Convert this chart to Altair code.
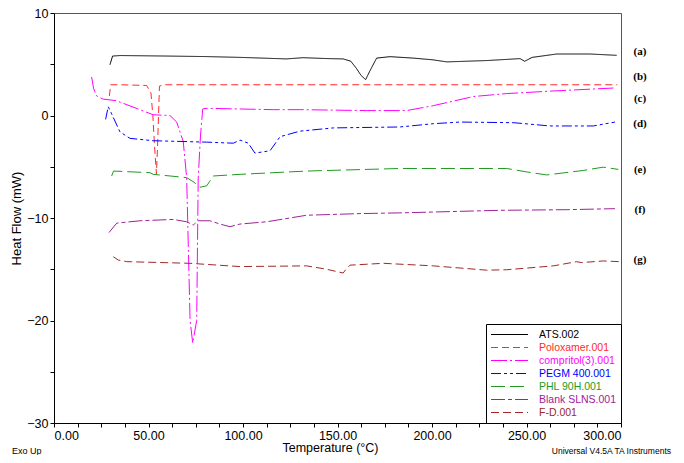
import altair as alt
import pandas as pd

# ---- data ----
series_names = ["ATS.002", "Poloxamer.001", "compritol(3).001", "PEGM 400.001",
                "PHL 90H.001", "Blank SLNS.001", "F-D.001"]
series_colors = ["#000000", "#ff2a2a", "#ff00ff", "#0000ff", "#1f9a1f", "#a0209a", "#a02828"]
series_dashes = [[1, 0], [7, 4], [16, 3, 2, 3], [10, 3, 3, 3, 3, 3], [14, 5], [14, 3, 4, 3], [8, 4]]
curve_tags = ["(a)", "(b)", "(c)", "(d)", "(e)", "(f)", "(g)"]
tag_levels = [6.2, 3.8, 1.6, -0.8, -5.3, -9.2, -14.1]

ats_t = [29.6, 31, 35, 59.6, 80, 98.4, 110, 123, 131.8, 145, 153, 157, 160, 162.5, 164.9,
         167, 170.7, 177.8, 190, 200.6, 207.8, 229, 246.6, 249, 253, 266, 283.6, 297.7]
ats_hf = [4.95, 5.8, 5.85, 5.8, 5.75, 5.67, 5.6, 5.52, 5.64, 5.55, 5.52, 5.3, 4.6, 3.9, 3.5,
          4.3, 5.6, 5.74, 5.6, 5.43, 5.23, 5.36, 5.55, 5.29, 5.67, 6.0, 6.0, 5.87]

polox_t = [29.3, 30, 35, 49, 51.3, 52.3, 53.2, 54.2, 54.8, 55.3, 55.8, 58, 100, 200, 298]
polox_hf = [1.9, 3.0, 3.0, 2.93, 2.2, 0.0, -3.0, -5.7, -3.0, 0.0, 2.87, 3.0, 3.0, 3.0, 3.0]

comp_t = [19.9, 21, 22.6, 26, 33, 45, 52.5, 61.4, 64.9, 68.4, 70.2, 72, 73.4, 75.5, 76.3,
          77.5, 78.7, 81, 116, 130, 165.4, 186.6, 200.7, 221.9, 239.5, 264, 296]
comp_hf = [3.76, 2.6, 1.9, 1.6, 1.44, 0.6, 0.07, 0.0, -0.64, -2.55, -6.1, -20, -22.2, -20, -6.1,
           -2.0, 0.64, 0.7, 0.57, 0.57, 0.48, 0.48, 0.96, 1.85, 2.14, 2.39, 2.68]

pegm_t = [27.3, 28.7, 30.5, 34.9, 40.2, 52.5, 80.8, 94.9, 98.4, 102.8, 106.3, 114.3, 119.6,
          130, 147.8, 183, 200.7, 214.8, 243, 262.4, 285.4, 296.8]
pegm_hf = [-0.38, 0.86, 0.16, -1.6, -2.23, -2.46, -2.6, -2.7, -2.4, -2.7, -3.67, -3.44, -2.07,
           -1.53, -1.21, -1.12, -0.8, -0.64, -0.7, -1.02, -1.02, -0.64]

phl_t = [30.5, 31.5, 50.8, 52.5, 70.2, 74, 77.2, 80.8, 84.3, 98.4, 133.7, 183, 239.5, 250,
         260.7, 280, 290.6, 298.6]
phl_hf = [-5.9, -5.42, -5.58, -5.74, -6.06, -6.5, -7.0, -6.86, -5.9, -5.74, -5.42, -5.17, -5.17,
          -5.5, -5.8, -5.36, -5.04, -5.26]

blank_t = [29.1, 33.2, 45.5, 63.1, 70.2, 73.7, 76.3, 82.5, 87.8, 93.1, 98.4, 112.5, 133.7,
           161.9, 183, 236, 271, 296.8]
blank_hf = [-11.42, -10.5, -10.27, -10.14, -10.37, -10.69, -10.27, -10.27, -10.59, -10.85,
            -10.59, -10.37, -9.73, -9.57, -9.5, -9.25, -9.19, -9.09]

fd_t = [31.4, 34, 38.5, 72, 98.4, 133.7, 144.3, 153, 154.5, 156.6, 174.2, 200.7, 229, 239.5,
        264.2, 276.5, 279, 290.6, 299.5]
fd_hf = [-13.78, -14.1, -14.26, -14.42, -14.74, -14.67, -15.0, -15.37, -15.0, -14.6, -14.42,
         -14.67, -15.09, -15.05, -14.67, -14.26, -14.35, -14.19, -14.26]

x_ticks = [i * 12.5 for i in range(25)]
y_ticks = [-30 + i * 2.5 for i in range(17)]

# ---- build long table ----
all_t = [ats_t, polox_t, comp_t, pegm_t, phl_t, blank_t, fd_t]
all_hf = [ats_hf, polox_hf, comp_hf, pegm_hf, phl_hf, blank_hf, fd_hf]
rows = []
for name, ts, hs in zip(series_names, all_t, all_hf):
    for i, (t, h) in enumerate(zip(ts, hs)):
        rows.append({"series": name, "T": t, "HF": h, "idx": i})
df = pd.DataFrame(rows)
tags = pd.DataFrame({"tag": curve_tags, "HF": tag_levels})

FONT = "Liberation Sans"
W, H = 567, 410
PAD_TOP = 5

xscale = alt.Scale(domain=[0, 300], nice=False, zero=False)
yscale = alt.Scale(domain=[-30, 10], nice=False, zero=False)

lines = alt.Chart(df).mark_line(strokeWidth=1).encode(
    x=alt.X("T:Q", scale=xscale,
            axis=alt.Axis(values=x_ticks, title="Temperature (°C)",
                          labelExpr="datum.value % 50 === 0 ? format(datum.value, '.2f') : ''",
                          titleX=276, titlePadding=0, titleFontSize=12.5)),
    y=alt.Y("HF:Q", scale=yscale,
            axis=alt.Axis(values=y_ticks, title="Heat Flow (mW)",
                          labelExpr="datum.value % 10 === 0 ? format(datum.value, 'd') : ''",
                          titleX=-31, titleBaseline="bottom")),
    color=alt.Color("series:N", scale=alt.Scale(domain=series_names, range=series_colors),
                    legend=alt.Legend(title=None, orient="bottom-right", offset=0,
                                      symbolType="stroke", symbolSize=1369,
                                      symbolStrokeWidth=1.2, clipHeight=13,
                                      symbolStrokeColor={"expr": "scale('color', datum.value)"},
                                      rowPadding=0, labelOffset=10,
                                      labelFont=FONT, labelFontSize=10.5,
                                      labelColor={"expr": "scale('color', datum.value)"},
                                      strokeColor="#000", fillColor="#fff", padding=4)),
    strokeDash=alt.StrokeDash("series:N", scale=alt.Scale(domain=series_names, range=series_dashes),
                              legend=alt.Legend(title=None)),
    order="idx:Q",
)

tag_text = alt.Chart(tags).mark_text(font="Liberation Serif", fontWeight="bold", fontSize=11,
                                     align="center", baseline="middle", color="#000").encode(
    x=alt.value(W + 19),
    y=alt.Y("HF:Q", scale=yscale),
    text="tag:N",
)

one = pd.DataFrame({"a": [0]})
exo = alt.Chart(one).mark_text(text="Exo Up", font=FONT, fontSize=9, align="left",
                               baseline="middle", color="#000").encode(
    x=alt.value(-42), y=alt.value(H + 28))
univ = alt.Chart(one).mark_text(text="Universal V4.5A TA Instruments", font=FONT, fontSize=8.5,
                                align="right", baseline="middle", color="#000").encode(
    x=alt.value(W + 50), y=alt.value(H + 28))

chart = alt.layer(lines, tag_text, exo, univ).properties(
    width=W, height=H,
    padding={"left": 46, "top": PAD_TOP, "right": 55, "bottom": 447 - PAD_TOP - H},
    autosize=alt.AutoSizeParams(type="none"),
).configure_view(stroke="#555", strokeWidth=1).configure_axis(
    grid=False, domainColor="#000", tickColor="#000", tickSize=4, labelPadding=2,
    labelFont=FONT, labelFontSize=12.5, labelColor="#000", titleFont=FONT,
    titleFontSize=13, titleFontWeight="normal", titleColor="#000",
)

chart.save("out.html", embed_options={"renderer": "svg", "actions": False})
